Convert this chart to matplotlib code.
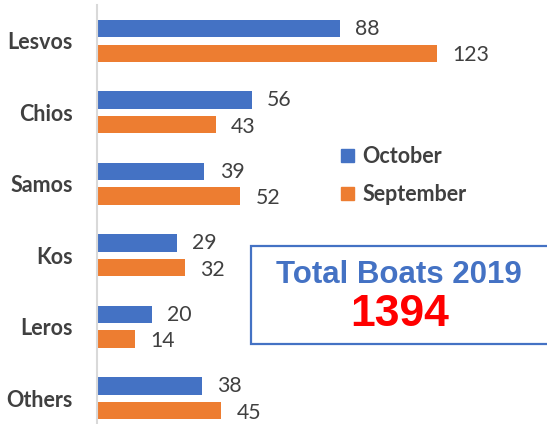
import matplotlib
matplotlib.use("Agg")
import matplotlib.pyplot as plt
from matplotlib.patches import Rectangle, Patch

categories = ["Lesvos", "Chios", "Samos", "Kos", "Leros", "Others"]
october = [88, 56, 39, 29, 20, 38]
september = [123, 43, 52, 32, 14, 45]
series_names = ["October", "September"]
total_title = "Total Boats 2019"
total_value = "1394"

BLUE = "#4472C4"
ORANGE = "#ED7D31"
GRAY = "#404040"

W, H = 547, 424
fig = plt.figure(figsize=(W / 100, H / 100), dpi=100)
ax_left = 96.5 / W
ax_top = 1 - 5.25 / H
ax_bottom = 1 - 434 / H
ax = fig.add_axes([ax_left, ax_bottom, 1 - ax_left, ax_top - ax_bottom])

font = "Lato"
idx = list(range(len(categories)))
off = 0.172
bh = 0.245
ax.barh([i - off for i in idx], october, height=bh, color=BLUE)
ax.barh([i + off for i in idx], september, height=bh, color=ORANGE)

for i in idx:
    ax.text(october[i] + 5.5, i - off, str(october[i]), va="center", ha="left",
            fontsize=15.3, color=GRAY, family=font)
    ax.text(september[i] + 5.5, i + off + 0.03, str(september[i]), va="center", ha="left",
            fontsize=15.3, color=GRAY, family=font)

ax.set_xlim(0, 162.7)
ax.set_ylim(5.5, -0.5)
ax.set_yticks(idx)
ax.set_yticklabels(categories, fontsize=15.5, fontweight="bold", color=GRAY, family=font)
ax.tick_params(axis="y", length=0, pad=17)
ax.set_xticks([])
for s in ["top", "right", "bottom"]:
    ax.spines[s].set_visible(False)
ax.spines["left"].set_color("#D9D9D9")
ax.spines["left"].set_linewidth(1.5)
ax.patch.set_alpha(0)

handles = [Patch(color=BLUE), Patch(color=ORANGE)]
leg = fig.legend(handles, series_names, loc="upper left",
                 bbox_to_anchor=(341 / W, 1 - 146 / H), frameon=False,
                 prop={"family": font, "weight": "bold", "size": 15.5},
                 handlelength=0.6, handleheight=0.6, handletextpad=0.4,
                 labelspacing=0.8, borderpad=0, borderaxespad=0)
for t in leg.get_texts():
    t.set_color(GRAY)

rect = Rectangle((251 / W, 1 - 344 / H), 0.6, 98 / H, transform=fig.transFigure,
                 fill=True, facecolor="white", edgecolor=BLUE, linewidth=1.6)
fig.add_artist(rect)
fig.text(399 / W, 1 - 275 / H, total_title, ha="center", va="center",
         fontsize=22.5, fontweight="bold", color=BLUE, family="Liberation Sans")
fig.text(400 / W, 1 - 315 / H, total_value, ha="center", va="center",
         fontsize=32, fontweight="bold", color="#FF0000", family="Liberation Sans")

fig.savefig("out.png", dpi=100)
